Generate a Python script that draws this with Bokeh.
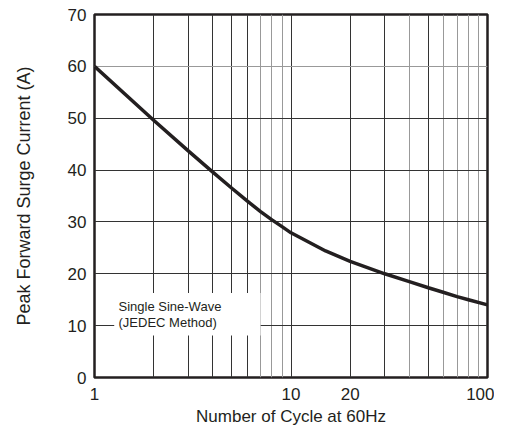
from bokeh.plotting import figure
from bokeh.models import Range1d, FixedTicker, PrintfTickFormatter, Grid, BoxAnnotation, Label, ColumnDataSource
from bokeh.embed import file_html
from bokeh.resources import INLINE

# Data
cycles = [1, 2, 3, 4, 5, 6, 7, 8, 9, 10, 15, 20, 30, 40, 50, 60, 70, 80, 100]
current = [60.0, 49.6, 43.7, 39.6, 36.5, 34.0, 32.0, 30.4, 29.1, 27.9, 24.4, 22.4,
           20.0, 18.5, 17.3, 16.4, 15.6, 15.0, 14.0]

x_tick_values = [1, 10, 20, 100]
y_tick_values = [0, 10, 20, 30, 40, 50, 60, 70]
x_grid_dark = [2, 3, 4, 5, 6, 10, 20, 30, 50]
x_grid_light = [7, 8, 9, 40, 60, 70, 80, 90]
y_grid_dark = [10, 20, 30, 40, 50]
y_grid_light = [60]
note_lines = ["Single Sine-Wave", "(JEDEC Method)"]

FONT = "Liberation Sans"
INK = "#231f20"

p = figure(width=494, height=428, x_axis_type="log",
           x_range=Range1d(1, 100), y_range=Range1d(0, 70),
           output_backend="svg", toolbar_location=None,
           min_border_left=94, min_border_right=7,
           min_border_top=14, min_border_bottom=50)

p.background_fill_color = "white"
p.border_fill_color = "white"
p.outline_line_color = INK
p.outline_line_width = 2.5

p.xgrid.visible = False
p.ygrid.visible = False

for ticks, col, dim in [(x_grid_dark, "#333333", 0), (x_grid_light, "#999999", 0),
                        (y_grid_dark, "#333333", 1), (y_grid_light, "#999999", 1)]:
    g = Grid(dimension=dim, ticker=FixedTicker(ticks=ticks),
             grid_line_color=col, grid_line_width=1)
    p.add_layout(g)

# White note box covering the grid
p.add_layout(BoxAnnotation(left=1.26, right=7.0, bottom=8.1, top=16.3,
                           fill_color="white", fill_alpha=1.0, line_color=None,
                           level="underlay"))

src = ColumnDataSource(dict(x=cycles, y=current))
p.line("x", "y", source=src, line_color=INK, line_width=3.5, line_join="round")

for txt, yv in zip(note_lines, [13.6, 10.7]):
    p.add_layout(Label(x=1.325, y=yv, text=txt, text_font=FONT,
                       text_font_size="13px", text_color=INK,
                       text_baseline="alphabetic", text_align="left"))

# Axes
p.xaxis.ticker = FixedTicker(ticks=x_tick_values)
p.xaxis.formatter = PrintfTickFormatter(format="%d")
p.yaxis.ticker = FixedTicker(ticks=y_tick_values)

for ax in (p.xaxis[0], p.yaxis[0]):
    ax.axis_line_color = None
    ax.major_tick_line_color = None
    ax.minor_tick_line_color = None
    ax.major_tick_out = 0
    ax.major_tick_in = 0
    ax.minor_tick_out = 0
    ax.minor_tick_in = 0
    ax.major_label_text_font = FONT
    ax.major_label_text_font_size = "17px"
    ax.major_label_text_color = INK
    ax.axis_label_text_font = FONT
    ax.axis_label_text_font_style = "normal"
    ax.axis_label_text_color = INK

p.xaxis.axis_label = "Number of Cycle at 60Hz"
p.xaxis.axis_label_text_font_size = "17px"
p.xaxis.major_label_standoff = 10
p.xaxis.axis_label_standoff = 4

p.yaxis.axis_label = "Peak Forward Surge Current (A)"
p.yaxis.axis_label_text_font_size = "18px"
p.yaxis.major_label_standoff = 8
p.yaxis.axis_label_standoff = 31

open("out.html", "w").write(file_html(p, INLINE))
